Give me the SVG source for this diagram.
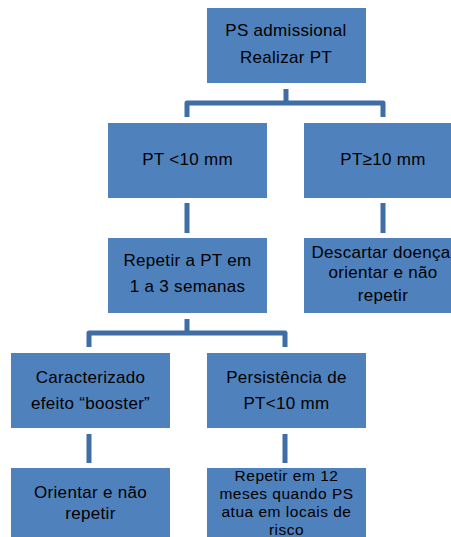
<svg xmlns="http://www.w3.org/2000/svg" width="451" height="537" viewBox="0 0 451 537">
  <style>
    .box { fill: #4f81bd; }
    .lbl { font-family: "Liberation Sans", Arial, sans-serif; font-size: 17px; letter-spacing: 0.3px; fill: #000; text-anchor: middle; }
    .sm { font-size: 15.5px; letter-spacing: 0.5px; }
    .conn { fill: none; stroke: #3f6da5; stroke-width: 5; stroke-linejoin: round; }
  </style>
  <rect width="451" height="537" fill="#ffffff"/>

  <!-- connectors -->
  <g id="connectors" class="conn">
    <path d="M286,89 V103"/>
    <path d="M187,117 V103 H383 V117"/>
    <path d="M187,203 V233"/>
    <path d="M383,203 V233"/>
    <path d="M187,319 V333"/>
    <path d="M89,347 V333 H285 V347"/>
    <path d="M89,434 V463"/>
    <path d="M285,434 V463"/>
  </g>

  <!-- nodes -->
  <g id="n-admissional">
    <rect class="box" x="207" y="8" width="159" height="75"/>
    <text class="lbl" x="286" y="36">PS admissional</text>
    <text class="lbl" x="286" y="63">Realizar PT</text>
  </g>
  <g id="n-pt-menor">
    <rect class="box" x="108" y="123" width="159" height="75"/>
    <text class="lbl" x="187.5" y="165">PT &lt;10 mm</text>
  </g>
  <g id="n-pt-maior">
    <rect class="box" x="304" y="123" width="159" height="75"/>
    <text class="lbl" x="383" y="165">PT≥10 mm</text>
  </g>
  <g id="n-repetir">
    <rect class="box" x="108" y="238" width="159" height="75"/>
    <text class="lbl" x="187.5" y="266">Repetir a PT em</text>
    <text class="lbl" x="187.5" y="292">1 a 3 semanas</text>
  </g>
  <g id="n-descartar">
    <rect class="box" x="304" y="238" width="159" height="75"/>
    <text class="lbl" x="381" y="258">Descartar doença</text>
    <text class="lbl" x="383" y="278">orientar e não</text>
    <text class="lbl" x="383" y="301">repetir</text>
  </g>
  <g id="n-booster">
    <rect class="box" x="11" y="353" width="159" height="75"/>
    <text class="lbl" x="90.5" y="383">Caracterizado</text>
    <text class="lbl" x="90.5" y="409">efeito “booster”</text>
  </g>
  <g id="n-persistencia">
    <rect class="box" x="207" y="353" width="159" height="75"/>
    <text class="lbl" x="286.5" y="383">Persistência de</text>
    <text class="lbl" x="286.5" y="409">PT&lt;10 mm</text>
  </g>
  <g id="n-orientar">
    <rect class="box" x="11" y="468" width="159" height="75"/>
    <text class="lbl" x="90.5" y="498">Orientar e não</text>
    <text class="lbl" x="90.5" y="519">repetir</text>
  </g>
  <g id="n-repetir-12">
    <rect class="box" x="207" y="468" width="159" height="75"/>
    <text class="lbl sm" x="286.5" y="481">Repetir em 12</text>
    <text class="lbl sm" x="286.5" y="499">meses quando PS</text>
    <text class="lbl sm" x="286.5" y="517">atua em locais de</text>
    <text class="lbl sm" x="286.5" y="535">risco</text>
  </g>
</svg>
